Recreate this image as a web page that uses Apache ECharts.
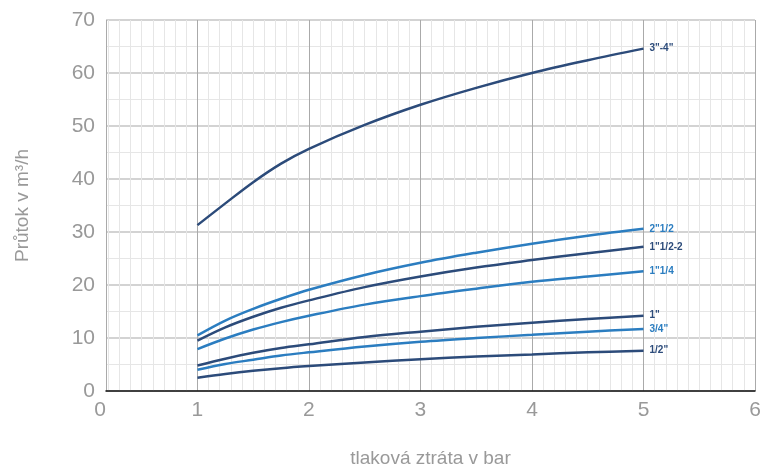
<!DOCTYPE html>
<html>
<head>
<meta charset="utf-8">
<script src="https://cdn.jsdelivr.net/npm/echarts@6/dist/echarts.min.js"></script>
<style>html,body{margin:0;padding:0;background:#fff}#c{width:761px;height:467px}</style>
</head>
<body>
<div id="c"></div>
<script>
var xValues = [1, 1.25, 1.5, 1.75, 2, 2.5, 3, 3.5, 4, 4.5, 5];
var s_3_4   = [31.3, 35.4, 39.4, 42.9, 45.7, 50.2, 54.0, 57.2, 60.0, 62.4, 64.6];
var s_2_12  = [10.5, 13.3, 15.5, 17.4, 19.1, 21.9, 24.2, 26.1, 27.8, 29.3, 30.6];
var s_1_12_2= [9.5, 12.0, 14.0, 15.7, 17.1, 19.6, 21.6, 23.3, 24.7, 26.0, 27.2];
var s_1_14  = [7.9, 9.9, 11.6, 13.0, 14.2, 16.3, 17.9, 19.3, 20.6, 21.6, 22.6];
var s_1     = [4.8, 6.1, 7.2, 8.1, 8.8, 10.2, 11.2, 12.1, 12.9, 13.6, 14.2];
var s_3_4in = [4.0, 5.1, 5.9, 6.7, 7.3, 8.4, 9.3, 10.0, 10.6, 11.2, 11.7];
var s_1_2   = [2.5, 3.2, 3.8, 4.3, 4.7, 5.4, 6.0, 6.5, 6.9, 7.3, 7.6];
var seriesNames = ['3"-4"', '2"1/2', '1"1/2-2', '1"1/4', '1"', '3/4"', '1/2"'];
var seriesValues = [s_3_4, s_2_12, s_1_12_2, s_1_14, s_1, s_3_4in, s_1_2];
var navy = '#2c4b7a', blue = '#2b7dc0';
var seriesColors = [navy, blue, navy, blue, navy, blue, navy];

function pairs(vals){ return xValues.map(function(x,i){ return [x, vals[i]]; }); }

var series = seriesNames.map(function(n, i){
  return {
    name: n, type: 'line', smooth: 0.35, showSymbol: false, symbol: 'none',
    data: pairs(seriesValues[i]),
    lineStyle: { color: seriesColors[i], width: 2.5 },
    itemStyle: { color: seriesColors[i] },
    endLabel: { show: true, formatter: '{a}', color: seriesColors[i], fontSize: 10, fontWeight: 'bold',
      fontFamily: 'Liberation Sans, Arial, sans-serif', distance: 6 },
    animation: false
  };
});

var labelFont = { color: '#999', fontSize: 21, fontFamily: 'Liberation Sans, Arial, sans-serif' };

var chart = echarts.init(document.getElementById('c'), null, {renderer: 'canvas'});
chart.setOption({
  animation: false,
  grid: { left: 106, right: 6, top: 20, bottom: 76, containLabel: false, outerBoundsMode: 'none' },
  xAxis: {
    type: 'value', min: 0.18, max: 6,
    name: 'tlaková ztráta v bar', nameLocation: 'middle', nameGap: 58,
    nameTextStyle: { color: '#999', fontSize: 19, fontFamily: 'Liberation Sans, Arial, sans-serif' },
    axisLine: { show: true, lineStyle: { color: '#111', width: 1.5 } },
    axisTick: { show: false },
    axisLabel: { color: '#999', fontSize: 21, margin: 9, fontFamily: 'Liberation Sans, Arial, sans-serif',
      formatter: function(v){ return v < 0.5 ? '{z|0}' : String(Math.round(v)); },
      rich: { z: { color: '#999', fontSize: 21, fontFamily: 'Liberation Sans, Arial, sans-serif', padding: [0, 12, 0, 0] } } },
    splitLine: { show: true, lineStyle: { color: '#aaa', width: 1 } },
    minorTick: { show: false, splitNumber: 10 },
    minorSplitLine: { show: true, lineStyle: { color: '#e6e6e6', width: 1 } }
  },
  yAxis: {
    type: 'value', min: 0, max: 70, interval: 10,
    name: 'Průtok v m³/h', nameLocation: 'middle', nameGap: 74, nameRotate: 90,
    nameTextStyle: { color: '#999', fontSize: 19, fontFamily: 'Liberation Sans, Arial, sans-serif' },
    axisLine: { show: false },
    axisTick: { show: false },
    axisLabel: { color: '#999', fontSize: 21, margin: 11, fontFamily: 'Liberation Sans, Arial, sans-serif' },
    splitLine: { show: true, lineStyle: { color: '#c4c4c4', width: 1.5 } },
    minorTick: { show: false, splitNumber: 2 },
    minorSplitLine: { show: true, lineStyle: { color: '#e6e6e6', width: 1 } }
  },
  series: series
});
</script>
</body>
</html>
